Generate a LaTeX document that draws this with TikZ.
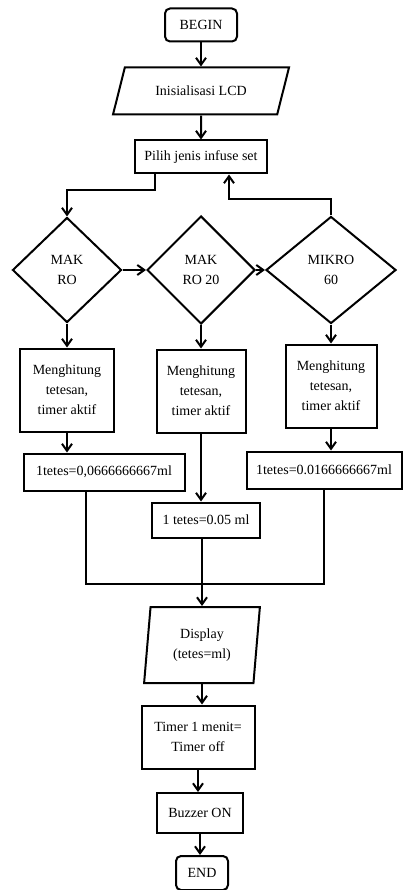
\documentclass[tikz,border=0pt]{standalone}
\usepackage{fontspec}
\setmainfont{Liberation Serif}
\usetikzlibrary{shapes.geometric, positioning, arrows.meta}
\tikzset{
	->, % connectors are directed
	>={Straight Barb[length=7pt, width=10pt]}, % open arrow heads
	every node/.style={font=\fontsize{14}{20}\selectfont, align=center, inner sep=2pt},
	terminal/.style={draw, rounded corners=5pt}, % BEGIN and END
	process/.style={draw},
	io/.style={draw, trapezium, trapezium stretches=true},
	decision/.style={draw, diamond},
}

\begin{document}
\begin{tikzpicture}[x=1pt, y=-1pt, line width=2pt]
	\useasboundingbox (0,0) rectangle (403,890);
	\node[terminal, minimum width=72pt, minimum height=33pt] (begin) at (201,25) {BEGIN};
	\node[io, trapezium left angle=62, trapezium right angle=118, minimum width=176pt, minimum height=47pt] (lcd) [below of=begin, node distance=66pt] {Inisialisasi LCD};
	\node[process, minimum width=132pt, minimum height=33pt] (pilih) [below of=lcd, node distance=66pt] {Pilih jenis infuse set};

	% the three kinds of infuse set
	\node[decision, minimum width=108pt, minimum height=108pt] (mak20) [below of=pilih, node distance=113pt] {MAK\\RO 20};
	\node[decision, minimum width=109pt, minimum height=105pt] (makro) [left of=mak20, node distance=134pt] {MAK\\RO};
	\node[decision, minimum width=130pt, minimum height=107pt] (mikro) [right of=mak20, node distance=130pt] {MIKRO\\60};

	\node[process, minimum width=94pt, minimum height=83pt] (hitung1) [below of=makro, node distance=120pt] {Menghitung\\tetesan,\\timer aktif};
	\node[process, minimum width=89pt, minimum height=83pt] (hitung2) [below of=mak20, node distance=121pt] {Menghitung\\tetesan,\\timer aktif};
	\node[process, minimum width=91pt, minimum height=83pt] (hitung3) [below of=mikro, node distance=116pt] {Menghitung\\tetesan,\\timer aktif};

	\node[process, minimum width=161pt, minimum height=37pt] (tetes1) [below of=hitung1, node distance=82pt, xshift=37pt] {1tetes=0,0666666667ml};
	\node[process, minimum width=108pt, minimum height=35pt] (tetes2) [below of=hitung2, node distance=129pt, xshift=5pt] {1 tetes=0.05 ml};
	\node[process, minimum width=155pt, minimum height=37pt] (tetes3) [below of=hitung3, node distance=84pt, xshift=-7pt] {1tetes=0.0166666667ml};
	\coordinate (join) at (201,584);

	\node[io, trapezium left angle=84, trapezium right angle=96, minimum width=116pt, minimum height=76pt] (display) at (202,645) {Display\\(tetes=ml)};
	\node[process, minimum width=113pt, minimum height=63pt] (timer) [below of=display, node distance=92pt, xshift=-4pt] {Timer 1 menit=\\Timer off};
	\node[process, minimum width=86pt, minimum height=40pt] (buzzer) [below of=timer, node distance=76pt, xshift=2pt] {Buzzer ON};
	\node[terminal, minimum width=52pt, minimum height=34pt] (end) [below of=buzzer, node distance=60pt, xshift=2pt] {END};

	\draw (begin) -- (lcd);
	\draw (lcd) -- (pilih);
	\draw ([xshift=-46pt]pilih.south) -- ++(0,16) -| (makro.north);
	\draw (mikro.north) -- ++(0,-16) -| ([xshift=28pt]pilih.south);
	\draw (makro) -- (mak20);
	\draw (mak20) -- (mikro);
	\draw (makro) -- (hitung1);
	\draw (mak20) -- (hitung2);
	\draw (mikro) -- (hitung3);
	\draw (hitung1.south) -- (hitung1.south |- tetes1.north);
	\draw (hitung2.south) -- (hitung2.south |- tetes2.north);
	\draw (hitung3.south) -- (hitung3.south |- tetes3.north);
	\draw[-] ([xshift=-18pt]tetes1.south) |- (join) -| (tetes3.south);
	\draw (tetes2.south -| display.north) -- (display.north);
	\draw (display.south) -- (display.south |- timer.north);
	\draw (timer.south) -- (timer.south |- buzzer.north);
	\draw (buzzer.south) -- (buzzer.south |- end.north);
\end{tikzpicture}
\end{document}
